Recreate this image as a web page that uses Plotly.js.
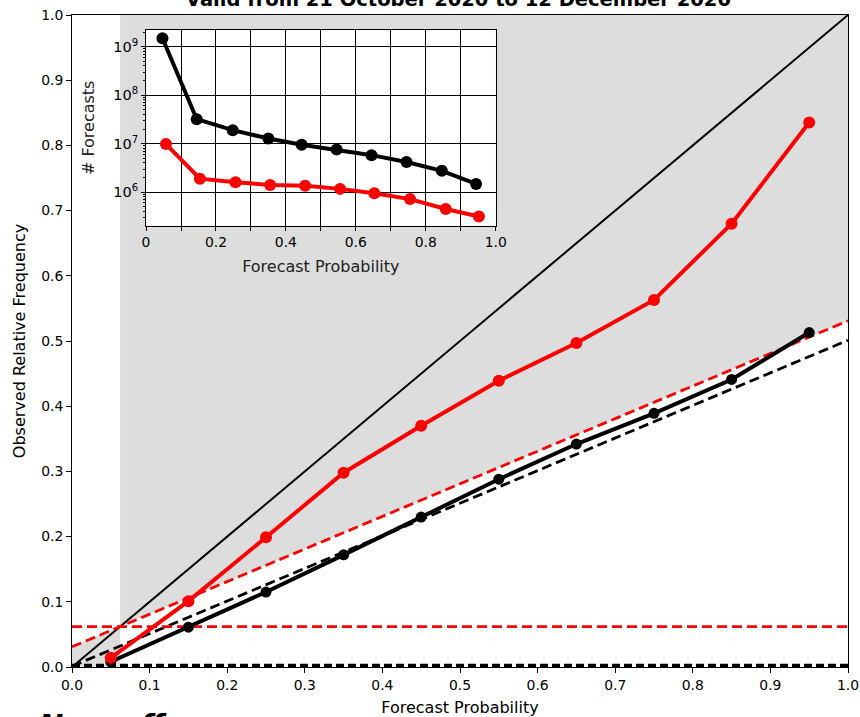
<!DOCTYPE html>
<html>
<head>
<meta charset="utf-8">
<script src="https://cdn.plot.ly/plotly-3.0.1.min.js"></script>
<style>html,body{margin:0;padding:0;background:#fff;}#chart{width:860px;height:717px;}</style>
</head>
<body>
<div id="chart"></div>
<script>
// ---- data ----
var binCentres = [0.05, 0.15, 0.25, 0.35, 0.45, 0.55, 0.65, 0.75, 0.85, 0.95];
var relRed   = [0.014, 0.101, 0.199, 0.298, 0.370, 0.439, 0.497, 0.563, 0.680, 0.835];
var relBlack = [0.008, 0.061, 0.115, 0.172, 0.230, 0.288, 0.342, 0.389, 0.441, 0.513];
var climRed = 0.062;
var climBlack = 0.0024;
var perfectX = [0, 1];
var perfectY = [0, 1];

var countXBlack = [0.047, 0.145, 0.248, 0.350, 0.445, 0.545, 0.645, 0.745, 0.846, 0.944];
var countXRed   = [0.057, 0.154, 0.256, 0.355, 0.455, 0.555, 0.653, 0.755, 0.857, 0.952];
var countsBlack = [1.49e9, 3.2e7, 1.9e7, 1.28e7, 9.5e6, 7.6e6, 5.8e6, 4.2e6, 2.76e6, 1.48e6];
var countsRed   = [9.8e6, 1.9e6, 1.6e6, 1.41e6, 1.35e6, 1.17e6, 9.5e5, 7.2e5, 4.5e5, 3.15e5];

var mainTicks = [0, 0.1, 0.2, 0.3, 0.4, 0.5, 0.6, 0.7, 0.8, 0.9, 1.0];
var insetXTicks = [0, 0.2, 0.4, 0.6, 0.8, 1.0];
var insetXTickText = ['0', '0.2', '0.4', '0.6', '0.8', '1.0'];
var insetYTicks = [1e6, 1e7, 1e8, 1e9];
var insetYTickText = ['10<sup>6</sup>', '10<sup>7</sup>', '10<sup>8</sup>', '10<sup>9</sup>'];

var titleText = 'Valid from 21 October 2020 to 12 December 2020';
var xTitle = 'Forecast Probability';
var yTitle = 'Observed Relative Frequency';
var insetYTitle = '# Forecasts';
var footText = 'Now off';

// ---- layout helpers ----
var insetDomX = [0.0954, 0.546];
var insetDomY = [0.677, 0.977];

function noSkill(x, c) { return (x + c) / 2; }

// skill region (for red climatology) with a hole where the inset sits
var c = climRed;
var skillPath =
  'M ' + c + ',' + noSkill(c, c) +
  ' L 1,' + noSkill(1, c) +
  ' L 1,1 L ' + c + ',1 Z' +
  ' M ' + insetDomX[0] + ',' + insetDomY[0] +
  ' L ' + insetDomX[1] + ',' + insetDomY[0] +
  ' L ' + insetDomX[1] + ',' + insetDomY[1] +
  ' L ' + insetDomX[0] + ',' + insetDomY[1] + ' Z' +
  ' M 0,0 L 0,' + noSkill(0, c) + ' L ' + c + ',' + noSkill(c, c) + ' L ' + c + ',0 Z';

var minorLog = [];
[5, 6, 7, 8, 9].forEach(function (p) {
  for (var k = 2; k <= 9; k++) minorLog.push(k * Math.pow(10, p));
});

var traces = [
  {x: perfectX, y: perfectY, mode: 'lines', line: {color: 'black', width: 2}, xaxis: 'x', yaxis: 'y', hoverinfo: 'skip'},
  {x: perfectX, y: [climBlack, climBlack], mode: 'lines', line: {color: 'black', width: 3.5, dash: '8px,4px'}, hoverinfo: 'skip'},
  {x: perfectX, y: [noSkill(0, climBlack), noSkill(1, climBlack)], mode: 'lines', line: {color: 'black', width: 2.8, dash: '10px,5px'}, hoverinfo: 'skip'},
  {x: perfectX, y: [climRed, climRed], mode: 'lines', line: {color: 'red', width: 2.8, dash: '10px,5px'}, hoverinfo: 'skip'},
  {x: perfectX, y: [noSkill(0, climRed), noSkill(1, climRed)], mode: 'lines', line: {color: 'red', width: 2.8, dash: '10px,5px'}, hoverinfo: 'skip'},
  {x: binCentres, y: relBlack, mode: 'lines+markers', line: {color: 'black', width: 4}, marker: {color: 'black', size: 11}},
  {x: binCentres, y: relRed, mode: 'lines+markers', line: {color: 'red', width: 4}, marker: {color: 'red', size: 12}},
  {x: countXBlack, y: countsBlack, mode: 'lines+markers', line: {color: 'black', width: 4}, marker: {color: 'black', size: 12}, xaxis: 'x2', yaxis: 'y2'},
  {x: countXRed, y: countsRed, mode: 'lines+markers', line: {color: 'red', width: 4}, marker: {color: 'red', size: 12}, xaxis: 'x2', yaxis: 'y2'}
];

var tickFont = {family: 'DejaVu Sans', size: 13.9, color: 'black'};
var labFont = {family: 'DejaVu Sans', size: 16, color: 'black'};

var layout = {
  width: 860, height: 717,
  margin: {l: 72, r: 12, t: 15, b: 50},
  paper_bgcolor: 'white',
  plot_bgcolor: 'white',
  showlegend: false,
  font: {family: 'DejaVu Sans', size: 13.9, color: 'black'},
  title: {text: '<b>' + titleText + '</b>', font: {family: 'DejaVu Sans', size: 19.5, color: 'black'},
          x: 0.498, xanchor: 'center', xref: 'paper', y: 1 - 6 / 717, yref: 'container', yanchor: 'bottom'},
  xaxis: {
    domain: [0, 1], range: [0, 1], tickvals: mainTicks, tickformat: '.1f',
    ticks: 'outside', ticklen: 5, tickwidth: 1, tickcolor: 'black',
    showline: true, linecolor: 'black', linewidth: 1, mirror: true,
    showgrid: false, zeroline: false, tickfont: tickFont,
    title: {text: xTitle, font: labFont, standoff: 12}, automargin: false
  },
  yaxis: {
    domain: [0, 1], range: [0, 1], tickvals: mainTicks, tickformat: '.1f',
    ticks: 'outside', ticklen: 5, tickwidth: 1, tickcolor: 'black',
    showline: true, linecolor: 'black', linewidth: 1, mirror: true,
    showgrid: false, zeroline: false, tickfont: tickFont,
    title: {text: yTitle, font: labFont, standoff: 11}, automargin: false
  },
  xaxis2: {
    domain: insetDomX, anchor: 'y2', range: [0, 1],
    tickmode: 'array', tickvals: insetXTicks, ticktext: insetXTickText,
    ticks: 'outside', ticklen: 4, tickwidth: 1, tickcolor: 'black',
    showline: true, linecolor: 'black', linewidth: 1, mirror: true,
    showgrid: true, gridcolor: 'black', gridwidth: 1, zeroline: false, tickfont: tickFont,
    minor: {dtick: 0.1, showgrid: true, gridcolor: 'black', gridwidth: 1, ticks: 'outside', ticklen: 4, tickcolor: 'black'},
    title: {text: xTitle, font: {family: 'DejaVu Sans', size: 16, color: '#222'}, standoff: 11}, automargin: false
  },
  yaxis2: {
    domain: insetDomY, anchor: 'x2', type: 'log', range: [5.311, 9.344],
    tickmode: 'array', tickvals: insetYTicks, ticktext: insetYTickText,
    ticks: 'outside', ticklen: 4, tickwidth: 1, tickcolor: 'black',
    showline: true, linecolor: 'black', linewidth: 1, mirror: true,
    showgrid: true, gridcolor: 'black', gridwidth: 1, zeroline: false,
    tickfont: {family: 'DejaVu Sans', size: 14.5, color: 'black'},
    minor: {tickmode: 'array', tickvals: minorLog, ticks: 'outside', ticklen: 2.5, tickcolor: 'black', showgrid: false},
    title: {text: insetYTitle, font: {family: 'DejaVu Sans', size: 16, color: '#222'}, standoff: 14}, automargin: false
  },
  shapes: [
    {type: 'path', path: skillPath, xref: 'x', yref: 'y', layer: 'below',
     fillcolor: '#dddddd', fillrule: 'evenodd', line: {width: 0}}
  ],
  annotations: [
    {text: '<b><i>' + footText + '</i></b>', xref: 'paper', yref: 'paper', x: -0.045, y: -(706 - 667) / 652,
     xanchor: 'left', yanchor: 'top', showarrow: false, font: {family: 'DejaVu Sans', size: 29, color: 'black'}}
  ]
};

Plotly.newPlot('chart', traces, layout, {displayModeBar: false, staticPlot: true});
</script>
</body>
</html>
